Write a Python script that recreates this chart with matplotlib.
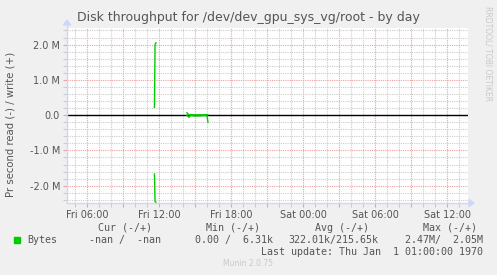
import matplotlib
matplotlib.use("Agg")
import matplotlib.pyplot as plt
from matplotlib.ticker import MultipleLocator, FuncFormatter
import numpy as np

# ---- data (hours since Fri 00:00, bytes per second) ----
spike_hours = [11.62, 11.67, 11.75]
spike_write = [0.22e6, 2.00e6, 2.05e6]
spike_read = [1.67e6, 2.45e6, 2.47e6]

cluster_hours = [14.33, 14.42, 14.50, 14.58, 14.67, 14.75, 14.83, 14.92, 15.00,
                 15.08, 15.17, 15.25, 15.33, 15.42, 15.50, 15.58, 15.67, 15.75,
                 15.83, 15.92, 16.00, 16.08]
cluster_write = [0.07e6, 0.03e6, 0.01e6, 0.01e6, 0.02e6, 0.01e6, 0.01e6, 0.01e6, 0.01e6,
                 0.01e6, 0.01e6, 0.01e6, 0.01e6, 0.01e6, 0.01e6, 0.01e6, 0.01e6, 0.01e6,
                 0.01e6, 0.02e6, 0.01e6, 0.01e6]
cluster_read = [0.00e6, 0.04e6, 0.06e6, 0.03e6, 0.00e6, 0.01e6, 0.02e6, 0.02e6, 0.02e6,
                0.02e6, 0.02e6, 0.02e6, 0.02e6, 0.02e6, 0.02e6, 0.01e6, 0.01e6, 0.01e6,
                0.01e6, 0.01e6, 0.02e6, 0.20e6]

ytick_values = [-2e6, -1e6, 0, 1e6, 2e6]
ytick_labels = ["-2.0 M", "-1.0 M", "0.0", "1.0 M", "2.0 M"]

legend_header = ["Cur (-/+)", "Min (-/+)", "Avg (-/+)", "Max (-/+)"]
legend_values = ["-nan /  -nan", "0.00 /  6.31k", "322.01k/215.65k", "2.47M/  2.05M"]

# ---- figure ----
W, H = 497, 275
fig = plt.figure(figsize=(W / 100, H / 100), dpi=100, facecolor="#f0f0f0")

def fx(px):
    return px / W

def fy(py):
    return 1 - py / H

L, R, T, B = 67, 468, 28, 203
ax = fig.add_axes([fx(L), fy(B), fx(R) - fx(L), fy(T) - fy(B)])
ax.set_facecolor("white")
for s in ax.spines.values():
    s.set_visible(False)

ax.set_xlim(4.333, 37.75)
ax.set_ylim(-2.49e6, 2.47e6)

ax.xaxis.set_major_locator(MultipleLocator(3))
ax.xaxis.set_minor_locator(MultipleLocator(1))

def xfmt(v, pos):
    h = int(round(v))
    if h % 6 != 0:
        return ""
    day = "Fri" if h < 24 else "Sat"
    return f"{day} {h % 24:02d}:00"

ax.xaxis.set_major_formatter(FuncFormatter(xfmt))
ax.set_yticks(ytick_values)
ax.set_yticklabels(ytick_labels)
ax.yaxis.set_minor_locator(MultipleLocator(0.2e6))

grid_minor = "#cccccc"
grid_major = "#eea0a0"
ax.grid(which="minor", color=grid_minor, linestyle=(0, (1, 1)), linewidth=0.8)
ax.grid(which="major", color=grid_major, linestyle=(0, (1, 1)), linewidth=0.8)
ax.set_axisbelow(True)

ax.tick_params(axis="both", which="major", length=3, width=0.8, colors=grid_major,
               labelcolor="#555555", labelsize=7)
ax.tick_params(axis="both", which="minor", length=3, width=0.8, colors=grid_minor)
ax.tick_params(axis="x", pad=2)
ax.tick_params(axis="y", pad=2)

# zero line
ax.axhline(0, color="black", linewidth=1.0, zorder=3)

green = "#00cc00"
ax.plot(spike_hours, spike_write, color=green, lw=1.0, zorder=4)
ax.plot(spike_hours, [-v for v in spike_read], color=green, lw=1.0, zorder=4)
ax.plot(cluster_hours, cluster_write, color=green, lw=1.0, zorder=4)
ax.plot(cluster_hours, [-v for v in cluster_read], color=green, lw=1.0, zorder=4)

# axes with arrows
axis_col = "#cfd6f8"
fig.add_artist(plt.Line2D([fx(L), fx(R + 1)], [fy(B), fy(B)], color=axis_col, lw=1.0))
fig.add_artist(plt.Line2D([fx(L), fx(L)], [fy(B), fy(T - 3)], color=axis_col, lw=1.0))
fig.add_artist(plt.Polygon([[fx(R + 1), fy(B - 3.5)], [fx(R + 1), fy(B + 3.5)], [fx(R + 6), fy(B)]],
                           closed=True, color=axis_col, transform=fig.transFigure))
fig.add_artist(plt.Polygon([[fx(L - 3.5), fy(T - 3)], [fx(L + 3.5), fy(T - 3)], [fx(L), fy(T - 8)]],
                           closed=True, color=axis_col, transform=fig.transFigure))

# title
fig.text(fx(248), fy(18), "Disk throughput for /dev/dev_gpu_sys_vg/root - by day",
         ha="center", va="center", fontsize=9, color="#555555")
# y label
fig.text(fx(11), fy(124), "Pr second read (-) / write (+)", rotation=90,
         ha="center", va="center", fontsize=7.3, color="#555555")
# vertical credit
fig.text(fx(488), fy(54), "RRDTOOL/ TOBI OETIKER", rotation=270,
         ha="center", va="center", fontsize=5.5, color="#c8c8c8")

# legend
mono = dict(family="DejaVu Sans Mono", fontsize=7.2, color="#555555")
hdr_x = [125, 233, 342, 450]
for x, t in zip(hdr_x, legend_header):
    fig.text(fx(x), fy(228), t, ha="center", va="center", **mono)

fig.add_artist(plt.Rectangle((fx(14), fy(243)), fx(6), fy(237) - fy(243),
                             color=green, transform=fig.transFigure))
fig.text(fx(27), fy(240), "Bytes", ha="left", va="center", **mono)
val_right = [161, 273, 378, 483]
for x, t in zip(val_right, legend_values):
    fig.text(fx(x), fy(240), t, ha="right", va="center", **mono)
fig.text(fx(483), fy(252), "Last update: Thu Jan  1 01:00:00 1970", ha="right",
         va="center", **mono)
fig.text(fx(248), fy(264), "Munin 2.0.75", ha="center", va="center",
         fontsize=5.5, color="#c8c8c8")

fig.savefig("out.png", dpi=100, facecolor=fig.get_facecolor())
